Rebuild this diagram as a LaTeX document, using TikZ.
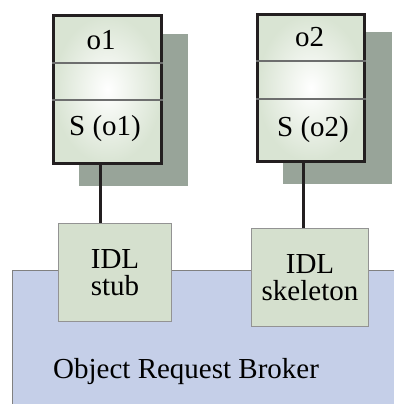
\documentclass[tikz,border=0pt]{standalone}
\usepackage{fontspec}
\setmainfont{Liberation Serif}
\usetikzlibrary{positioning}
\definecolor{orbblue}{HTML}{C5CFE8}
\definecolor{idlgreen}{HTML}{D5E0CE}
\definecolor{boxgreen}{HTML}{D9E4D3}
\definecolor{shadowgray}{HTML}{98A499}
\definecolor{boxline}{HTML}{231F20}
\definecolor{divline}{HTML}{6D6E6E}
\newcommand\bigfont{\fontsize{29}{27}\selectfont}
\begin{document}
\begin{tikzpicture}[x=1pt,y=-1pt]
      \tikzset{objbox/.style={draw=boxline, line width=3pt, rectangle, inner sep=0pt, minimum width=108pt, minimum height=148pt, inner color=white, outer color=boxgreen},
               idlbox/.style={draw=gray!85, line width=0.8pt, fill=idlgreen, inner sep=0pt, align=center, font=\bigfont},
               shadowbox/.style={fill=shadowgray},
               divider/.style={draw=divline, line width=1.3pt},
               wire/.style={draw=boxline, line width=3pt},
               caption/.style={font=\bigfont, anchor=base, inner sep=0pt}}
      \useasboundingbox (0,0) rectangle (394,404);
%% Broker
      	\fill[orbblue] (12,270) rectangle (394,404);
      	\draw[gray, line width=1pt] (12,404) -- (12,270) -- (394,270);
      	\node[caption, anchor=base west] (orbname) at (53,378) {Object Request Broker};
%% Shadows
      	\fill[shadowbox] (79,34) rectangle (188,186);
      	\fill[shadowbox] (283,32) rectangle (392,184);
%% Objects
      	\node[objbox] (o1) at (107.5,89.5) {};
      	\node[objbox, minimum width=107pt, minimum height=147pt] (o2) at (311,88) {};
      	\draw[divider] (o1.west |- 0,63) -- (o1.east |- 0,63);
      	\draw[divider] (o1.west |- 0,100) -- (o1.east |- 0,100);
      	\draw[divider] (o2.west |- 0,61) -- (o2.east |- 0,61);
      	\draw[divider] (o2.west |- 0,99) -- (o2.east |- 0,99);
      	\node[caption] (o1name) at (101,49) {o1};
      	\node[caption] (s1name) at (105,135) {S (o1)};
      	\node[caption] (o2name) at (309.5,47) {o2};
      	\node[caption] (s2name) at (313,136) {S (o2)};
%% IDL
      	\node[idlbox, minimum width=113pt, minimum height=98pt] (stub) at (115,272.5) {IDL\\stub};
      	\node[idlbox, minimum width=117pt, minimum height=98pt] (skel) at (310,277.5) {IDL\\skeleton};
%Wires
      	\draw[wire] (o1.south -| 100,0) -- (stub.north -| 100,0);
      	\draw[wire] (o2.south -| 303.5,0) -- (skel.north -| 303.5,0);
\end{tikzpicture}
\end{document}
